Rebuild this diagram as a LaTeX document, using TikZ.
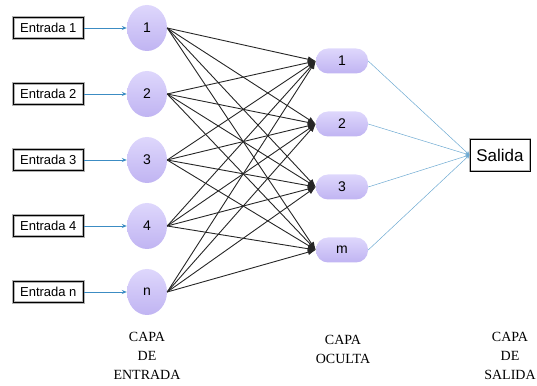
\documentclass[tikz,border=0pt]{standalone}
\usepackage{fontspec}
\setmainfont{Liberation Sans}
\newfontfamily\capafont{Liberation Serif}
\usetikzlibrary{shapes.geometric, positioning, arrows.meta}
\definecolor{lilaclaro}{RGB}{222,215,252}
\definecolor{lilaoscuro}{RGB}{192,180,242}
\definecolor{azulflecha}{RGB}{60,140,195}
\definecolor{azulsalida}{RGB}{110,170,210}

\begin{document}
\begin{tikzpicture}[
        x=1pt, y=1pt,
        entrada/.style={rectangle, draw=gray!60, double=black, double distance=0.7pt, line width=1pt, fill=white, minimum width=70pt, minimum height=21pt, inner sep=0pt, font=\fontsize{13}{15}\selectfont},
        neurona/.style={ellipse, top color=lilaclaro, bottom color=lilaoscuro, minimum width=40pt, minimum height=46pt, inner sep=0pt, font=\fontsize{14}{16}\selectfont},
        oculta/.style={rectangle, rounded corners=12pt, top color=lilaclaro, bottom color=lilaoscuro, minimum width=52pt, minimum height=25pt, inner sep=0pt, font=\fontsize{14}{16}\selectfont},
        salida/.style={rectangle, draw=gray!60, double=black, double distance=0.7pt, line width=1pt, fill=white, minimum width=60pt, minimum height=32pt, inner sep=0pt, font=\fontsize{17}{19}\selectfont},
        flechaazul/.style={-{Stealth[length=5pt, width=4pt]}, color=azulflecha, line width=0.8pt},
        flechanegra/.style={-{Latex[length=8pt, width=6pt]}, black!85, line width=0.9pt},
        lineasalida/.style={-{Stealth[length=4pt, width=4pt]}, color=azulsalida, line width=0.5pt},
        capa/.style={align=center, inner sep=1pt, font=\capafont\fontsize{14}{19}\selectfont}
    ]
    \useasboundingbox (0,0) rectangle (537,385);
    % capa de entrada
    \foreach \i/\t/\y in {1/1/357, 2/2/291, 3/3/225, 4/4/159, 5/n/93} {
        \node (c\i) [neurona] at (147,\y) {\t};
        \node (e\i) [entrada, left=43pt of c\i] {Entrada \t};
        \draw [flechaazul] (e\i) -- (c\i);
    }
    % capa oculta
    \foreach \j/\t/\y in {1/1/324, 2/2/261, 3/3/198, 4/m/135}
        \node (o\j) [oculta] at (342,\y) {\t};
    % capa de salida
    \node (s) [salida] at (500,230) {Salida};
    \foreach \i in {1,...,5}
        \foreach \j in {1,...,4}
            \draw [flechanegra] (c\i.east) -- (o\j.west);
    \foreach \j in {1,...,4}
        \draw [lineasalida] (o\j.east) -- (s.west);
    % rotulos
    \node (rent) [capa] at (147,29) {CAPA\\DE\\ENTRADA};
    \node (roc) [capa] at (343,36) {CAPA\\OCULTA};
    \node (rsal) [capa] at (510,29) {CAPA\\DE\\SALIDA};
\end{tikzpicture}
\end{document}
